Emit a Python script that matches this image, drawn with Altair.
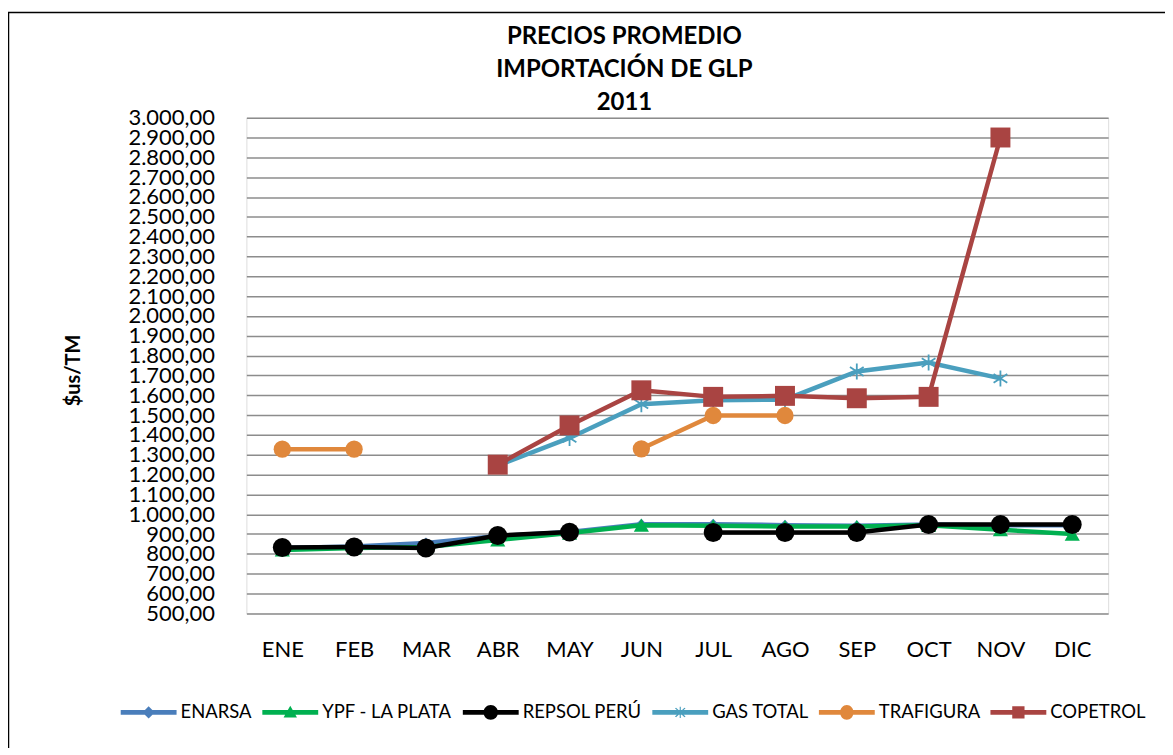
import altair as alt
import pandas as pd

meses = ["ENE", "FEB", "MAR", "ABR", "MAY", "JUN", "JUL", "AGO", "SEP", "OCT", "NOV", "DIC"]
series = ["ENARSA", "YPF - LA PLATA", "REPSOL PERÚ", "GAS TOTAL", "TRAFIGURA", "COPETROL"]
colores = ["#4A7EBB", "#00B050", "#000000", "#4A9FBE", "#E0883C", "#A94442"]
titulo = "PRECIOS PROMEDIO\nIMPORTACIÓN DE GLP\n2011"

enarsa = [830, 838, 855, 890, 910, 950, 950, 945, 942, 948, 945, 945]
ypf = [820, 830, 835, 870, 905, 945, 942, 938, 938, 945, 922, 900]
repsol = [832, 835, 830, 893, 910, None, 908, 908, 908, 948, 948, 948]
gas_total = [None, None, None, 1245, 1385, 1555, 1575, 1578, 1720, 1765, 1685, None]
trafigura = [1328, 1328, None, None, None, 1330, 1498, 1498, None, None, None, None]
copetrol = [None, None, None, 1250, 1448, 1625, 1592, 1597, 1585, 1592, 2900, None]

valores = [enarsa, ypf, repsol, gas_total, trafigura, copetrol]

rows = []
for nombre, vals in zip(series, valores):
    for m, v in zip(meses, vals):
        rows.append({"serie": nombre, "mes": m, "valor": v})
df = pd.DataFrame(rows)

FONT = "Lato"
ASTER = "M0,-1L0,1M-0.85,-0.55L0.85,0.55M-0.85,0.55L0.85,-0.55"
marcadores = [
    dict(shape="diamond", size=120, filled=True),
    dict(shape="triangle-up", size=230, filled=True),
    dict(shape="circle", size=360, filled=True),
    dict(shape=ASTER, size=260, filled=False, strokeWidth=1.8),
    dict(shape="circle", size=300, filled=True),
    dict(shape="square", size=400, filled=True),
]

LINE = "M-1,-0.085L1,-0.085L1,0.085L-1,0.085Z"
leyenda_paths = [
    LINE + "M0,-0.22L0.22,0L0,0.22L-0.22,0Z",
    LINE + "M0,-0.24L0.24,0.18L-0.24,0.18Z",
    LINE + "M0.26,0A0.26,0.26 0 1,1 -0.26,0A0.26,0.26 0 1,1 0.26,0Z",
    LINE + "M-0.02,-0.2L0.02,-0.2L0.02,0.2L-0.02,0.2Z"
         + "M-0.19,-0.15L-0.15,-0.17L0.19,0.15L0.15,0.17Z"
         + "M0.15,-0.17L0.19,-0.15L-0.15,0.17L-0.19,0.15Z",
    LINE + "M0.24,0A0.24,0.26 0 1,1 -0.24,0A0.24,0.26 0 1,1 0.24,0Z",
    LINE + "M-0.22,-0.22L0.22,-0.22L0.22,0.22L-0.22,0.22Z",
]

x_enc = alt.X(
    "mes:N",
    sort=meses,
    scale=alt.Scale(type="point", domain=meses, padding=0.5),
    axis=alt.Axis(
        title=None, labelAngle=0, ticks=False, domain=False, grid=False,
        labelFont=FONT, labelFontSize=22, labelColor="black", labelPadding=26,
    ),
)
y_enc = alt.Y(
    "valor:Q",
    scale=alt.Scale(domain=[500, 3000], nice=False, zero=False),
    axis=alt.Axis(
        title="$us/TM", titleFont=FONT, titleFontSize=20, titleFontWeight="bold",
        titleColor="black", titleX=-173, titleY=253, titleAngle=-90,
        titleAlign="center", titleBaseline="middle",
        values=list(range(500, 3001, 100)), grid=True, gridColor="#8c8c8c",
        gridWidth=1.5, domain=False, ticks=False, labelOverlap=False,
        labelFont=FONT, labelFontSize=22, labelColor="black", labelPadding=32,
        labelExpr="replace(replace(replace(format(datum.value, ',.2f'), ',', '#'), '.', ','), '#', '.')",
    ),
)

base = alt.Chart(df)
capas = []
for nombre, col, mk in zip(series, colores, marcadores):
    sub = base.transform_filter(alt.datum.serie == nombre)
    linea = sub.mark_line(color=col, strokeWidth=4.5).encode(x=x_enc, y=y_enc)
    mk_args = dict(mk)
    if mk_args.get("filled"):
        mk_args["strokeWidth"] = 0
    puntos = sub.mark_point(color=col, opacity=1, **mk_args).encode(x=x_enc, y=y_enc)
    capas += [linea, puntos]

leg_props = dict(
    title=None, orient="none", legendX=-126, legendY=568, direction="horizontal",
    columns=6, symbolSize=3136, labelFont=FONT, labelFontSize=18.5, labelColor="black",
    columnPadding=10, labelOffset=4, symbolStrokeWidth=0,
)
leyenda = base.transform_filter("false").mark_point(filled=True, size=3136, opacity=1).encode(
    color=alt.Color("serie:N", scale=alt.Scale(domain=series, range=colores), legend=alt.Legend(**leg_props)),
    shape=alt.Shape("serie:N", scale=alt.Scale(domain=series, range=leyenda_paths), legend=alt.Legend(**leg_props)),
)

uno = pd.DataFrame({"t": [titulo]})
borde = alt.Chart(uno).mark_rect(
    filled=False, stroke="black", strokeWidth=1.5
).encode(
    x=alt.value(-238.5), x2=alt.value(3000), y=alt.value(-105.5), y2=alt.value(3000)
)
texto_titulo = alt.Chart(uno).mark_text(
    font=FONT, fontSize=24, fontWeight="bold", color="black", align="center",
    baseline="top", lineBreak="\n", lineHeight=33,
).encode(x=alt.value(379), y=alt.value(-93), text="t:N")

chart = alt.layer(borde, texto_titulo, *capas, leyenda).properties(
    width=864,
    height=497,
    padding={"left": 239, "top": 109, "right": 57, "bottom": 134},
    autosize=alt.AutoSizeParams(type="none"),
).configure_view(strokeWidth=0).configure(background="white")

chart.save("out.html", embed_options={"renderer": "svg", "actions": False})
